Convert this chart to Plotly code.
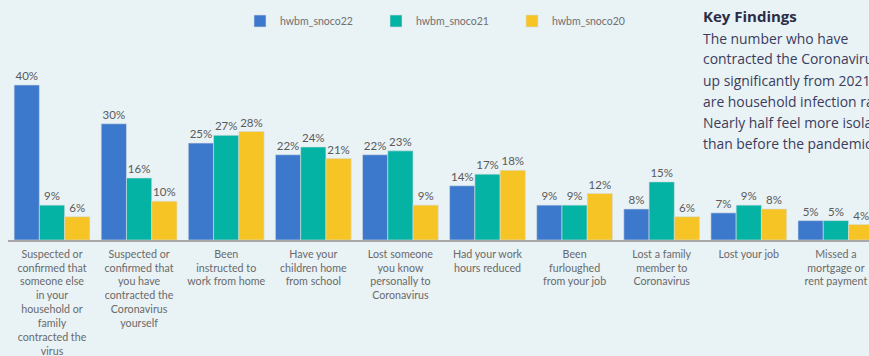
import plotly.graph_objects as go

categories = [
    "Suspected or<br>confirmed that<br>someone else<br>in your<br>household or<br>family<br>contracted the<br>virus",
    "Suspected or<br>confirmed that<br>you have<br>contracted the<br>Coronavirus<br>yourself",
    "Been<br>instructed to<br>work from home",
    "Have your<br>children home<br>from school",
    "Lost someone<br>you know<br>personally to<br>Coronavirus",
    "Had your work<br>hours reduced",
    "Been<br>furloughed<br>from your job",
    "Lost a family<br>member to<br>Coronavirus",
    "Lost your job",
    "Missed a<br>mortgage or<br>rent payment",
]
snoco22 = [40, 30, 25, 22, 22, 14, 9, 8, 7, 5]
snoco21 = [9, 16, 27, 24, 23, 17, 9, 15, 9, 5]
snoco20 = [6, 10, 28, 21, 9, 18, 12, 6, 8, 4]

findings_title = "Key Findings"
findings_lines = [
    "The number who have",
    "contracted the Coronavirus is",
    "up significantly from 2021, as",
    "are household infection rates.",
    "Nearly half feel more isolated",
    "than before the pandemic.",
]

W, H = 869, 356
ML, MT, MB = 8, 40, 116
bg = "#E9F2F5"
label_font = "Lato, 'Noto Sans', sans-serif"

fig = go.Figure()
for name, vals, col in [("hwbm_snoco22", snoco22, "#3C79CD"),
                        ("hwbm_snoco21", snoco21, "#05B3A5"),
                        ("hwbm_snoco20", snoco20, "#F6C425")]:
    fig.add_trace(go.Bar(
        x=categories, y=vals, name=name,
        marker=dict(color=col, line=dict(color="#D6DDE0", width=0.6)),
        text=[f"{v}%" for v in vals], textposition="outside",
        constraintext="none", cliponaxis=True,
        textfont=dict(size=11.5, color="#5a5a5a", family=label_font),
    ))

plot_w = W - ML
plot_h = H - MT - MB
px_per_cat = 87.1
xmin = -(52 - ML) / px_per_cat
xmax = xmin + plot_w / px_per_cat

def px_x(p):
    return (p - ML) / plot_w

def px_y(p):
    return (H - MB - p) / plot_h

annotations = [dict(
    text=f"<b>{findings_title}</b>", x=px_x(701), y=px_y(16), xref="paper", yref="paper",
    xanchor="left", yanchor="middle", showarrow=False,
    font=dict(size=15, color="#2a2d45", family="'Open Sans', sans-serif"),
)]
for i, line in enumerate(findings_lines):
    annotations.append(dict(
        text=line, x=px_x(701), y=px_y(38 + 21 * i), xref="paper", yref="paper",
        xanchor="left", yanchor="middle", showarrow=False,
        font=dict(size=13.9, color="#3a3d5c", family="'Open Sans', sans-serif"),
    ))

fig.update_layout(
    width=W, height=H,
    margin=dict(l=ML, r=0, t=MT, b=MB),
    paper_bgcolor=bg, plot_bgcolor=bg,
    barmode="group", bargap=0.13, bargroupgap=0,
    showlegend=True,
    legend=dict(orientation="h", x=(240 - ML) / plot_w, xanchor="left",
                y=1 - 21 / H, yref="container", yanchor="middle",
                entrywidth=91, entrywidthmode="pixels",
                font=dict(size=10.5, color="#707070", family=label_font),
                bgcolor="rgba(0,0,0,0)"),
    xaxis=dict(range=[xmin, xmax], showline=True, linecolor="#A8A8A8", linewidth=1.5,
               showgrid=False, ticks="", ticklabelstandoff=3,
               tickfont=dict(size=10.7, color="#6a6a6a", family=label_font),
               tickangle=0, fixedrange=True),
    yaxis=dict(range=[0, plot_h / 3.875], visible=False, showgrid=False, fixedrange=True),
    annotations=annotations,
)

fig.write_html("out.html", config={"displayModeBar": False},
               post_script="document.body.style.margin='0';")
